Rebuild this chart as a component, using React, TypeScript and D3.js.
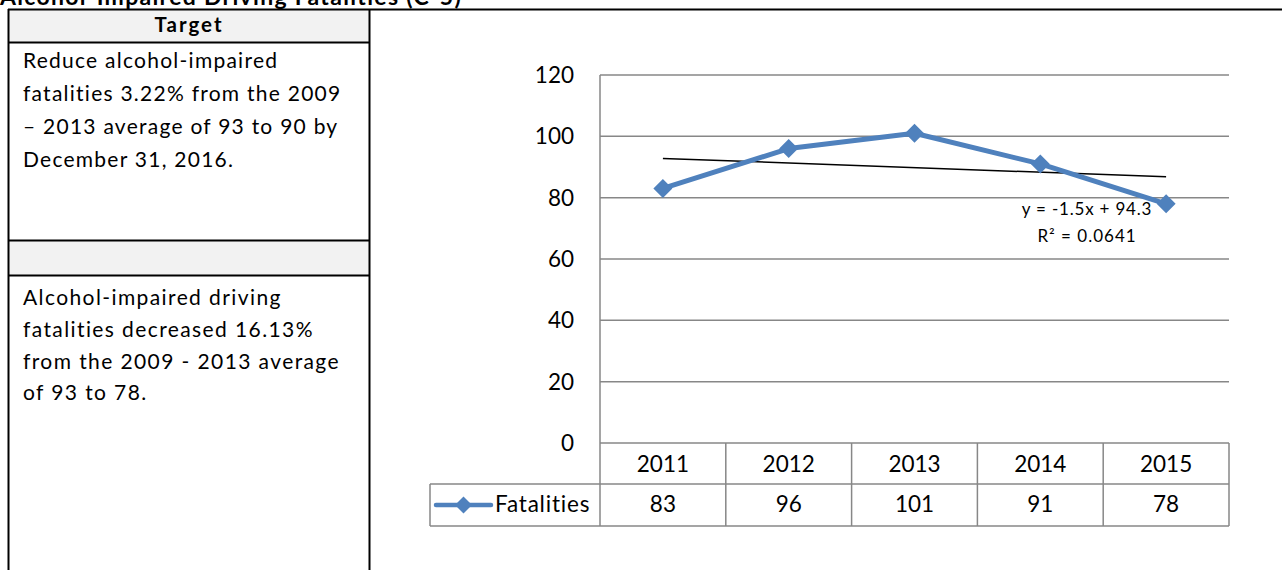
import React from "react";
import * as d3 from "d3";

const categories = ["2011", "2012", "2013", "2014", "2015"];
const seriesName = "Fatalities";
const fatalities = [83, 96, 101, 91, 78];
const yTicks = [0, 20, 40, 60, 80, 100, 120];
const trendSlope = -1.5;
const trendIntercept = 94.3;
const trendLabel = "y = -1.5x + 94.3";
const r2Label = "R² = 0.0641";

const title = "Alcohol-Impaired Driving Fatalities (C-5)";
const targetHeader = "Target";
const targetLines = [
  "Reduce alcohol-impaired",
  "fatalities 3.22% from the 2009",
  "– 2013 average of 93 to 90 by",
  "December 31, 2016.",
];
const resultLines = [
  "Alcohol-impaired driving",
  "fatalities decreased 16.13%",
  "from the 2009 - 2013 average",
  "of 93 to 78.",
];

const W = 1282;
const H = 570;
const FONT = "Lato, 'Open Sans', sans-serif";
const BLUE = "#4F81BD";
const GRID = "#878787";

export default function App() {
  const plotL = 600;
  const plotR = 1229;
  const plotT = 75;
  const plotB = 443;

  const x = d3.scaleBand<string>().domain(categories).range([plotL, plotR]).padding(0);
  const y = d3.scaleLinear().domain([0, 120]).range([plotB, plotT]);
  const cx = (c: string) => (x(c) as number) + x.bandwidth() / 2;

  const line = d3
    .line<number>()
    .x((_, i) => cx(categories[i]))
    .y((d) => y(d));

  const trendVals = categories.map((_, i) => trendSlope * (i + 1) + trendIntercept);
  const diamond = (px: number, py: number, r: number) =>
    `M${px},${py - r}L${px + r},${py}L${px},${py + r}L${px - r},${py}Z`;

  const rowCatTop = plotB;
  const rowCatBot = 484;
  const rowValBot = 526;
  const legendL = 430;

  return (
    <svg
      width={W}
      height={H}
      style={{ position: "absolute", left: 0, top: 0, background: "#fff" }}
      fontFamily={FONT}
    >
      <rect x={0} y={0} width={W} height={H} fill="#fff" />
      {/* Title (cut off at top, as in the source) */}
      <text x={0} y={4.5} fontSize={23} fontWeight="bold" fill="#000" style={{ letterSpacing: "1.3px" }}>
        {title}
      </text>

      {/* Left table */}
      <rect x={8} y={9} width={362} height={33} fill="#f2f2f2" />
      <rect x={8} y={240} width={362} height={35} fill="#f2f2f2" />
      <line x1={8} x2={W} y1={9.5} y2={9.5} stroke="#000" strokeWidth={2} />
      <line x1={8.5} x2={8.5} y1={9} y2={H} stroke="#000" strokeWidth={2} />
      <line x1={369.5} x2={369.5} y1={9} y2={H} stroke="#000" strokeWidth={2} />
      <line x1={8} x2={370} y1={42.5} y2={42.5} stroke="#000" strokeWidth={2} />
      <line x1={8} x2={370} y1={240.5} y2={240.5} stroke="#000" strokeWidth={2} />
      <line x1={8} x2={370} y1={275.5} y2={275.5} stroke="#000" strokeWidth={2} />
      <text
        x={189}
        y={31.5}
        fontSize={20.5}
        fontWeight="bold"
        textAnchor="middle"
        fill="#000"
        style={{ letterSpacing: "2px" }}
      >
        {targetHeader}
      </text>
      {targetLines.map((t, i) => (
        <text key={"t" + i} x={23} y={68.3 + i * 32.8} fontSize={21} fill="#000" style={{ letterSpacing: "1.25px" }}>
          {t}
        </text>
      ))}
      {resultLines.map((t, i) => (
        <text key={"r" + i} x={23} y={305 + i * 31.8} fontSize={21} fill="#000" style={{ letterSpacing: "1.4px" }}>
          {t}
        </text>
      ))}

      {/* Gridlines */}
      {yTicks.map((t) => (
        <line
          key={"g" + t}
          x1={plotL}
          x2={plotR}
          y1={y(t)}
          y2={y(t)}
          stroke={GRID}
          strokeWidth={1.5}
        />
      ))}
      <line x1={plotL} x2={plotL} y1={plotT} y2={rowValBot} stroke={GRID} strokeWidth={1.5} />
      {yTicks.map((t) => (
        <text
          key={"yl" + t}
          x={574}
          y={y(t)}
          dy="0.36em"
          fontSize={22.5}
          textAnchor="end"
          fill="#000"
        >
          {t}
        </text>
      ))}

      {/* Data table */}
      <line x1={legendL} x2={plotR} y1={rowCatBot} y2={rowCatBot} stroke={GRID} strokeWidth={1.5} />
      <line x1={legendL} x2={plotR} y1={rowValBot} y2={rowValBot} stroke={GRID} strokeWidth={1.5} />
      <line x1={legendL} x2={legendL} y1={rowCatBot} y2={rowValBot} stroke={GRID} strokeWidth={1.5} />
      {categories.map((c) => (
        <line
          key={"v" + c}
          x1={(x(c) as number) + x.bandwidth()}
          x2={(x(c) as number) + x.bandwidth()}
          y1={rowCatTop}
          y2={rowValBot}
          stroke={GRID}
          strokeWidth={1.5}
        />
      ))}
      {categories.map((c) => (
        <text key={"c" + c} x={cx(c)} y={472} fontSize={22.5} textAnchor="middle" fill="#000">
          {c}
        </text>
      ))}
      {fatalities.map((v, i) => (
        <text key={"d" + i} x={cx(categories[i])} y={512} fontSize={22.5} textAnchor="middle" fill="#000">
          {v}
        </text>
      ))}
      {/* Legend key */}
      <line x1={436} x2={491} y1={505} y2={505} stroke={BLUE} strokeWidth={4.5} strokeLinecap="round" />
      <path d={diamond(463.5, 505, 8.5)} fill={BLUE} />
      <text x={495} y={512} fontSize={22.5} fill="#000" style={{ letterSpacing: "0.8px" }}>
        {seriesName}
      </text>

      {/* Trendline */}
      <line
        x1={cx(categories[0])}
        x2={cx(categories[categories.length - 1])}
        y1={y(trendVals[0])}
        y2={y(trendVals[trendVals.length - 1])}
        stroke="#000"
        strokeWidth={1.5}
      />

      {/* Series */}
      <path
        d={line(fatalities) as string}
        fill="none"
        stroke={BLUE}
        strokeWidth={5}
        strokeLinejoin="round"
      />
      {fatalities.map((v, i) => (
        <path key={"m" + i} d={diamond(cx(categories[i]), y(v), 9.5)} fill={BLUE} />
      ))}

      {/* Trend label */}
      <text x={1087} y={215} fontSize={17} textAnchor="middle" fill="#000" style={{ letterSpacing: "0.8px" }}>
        {trendLabel}
      </text>
      <text x={1087} y={242} fontSize={17} textAnchor="middle" fill="#000" style={{ letterSpacing: "1px" }}>
        {r2Label}
      </text>
    </svg>
  );
}
